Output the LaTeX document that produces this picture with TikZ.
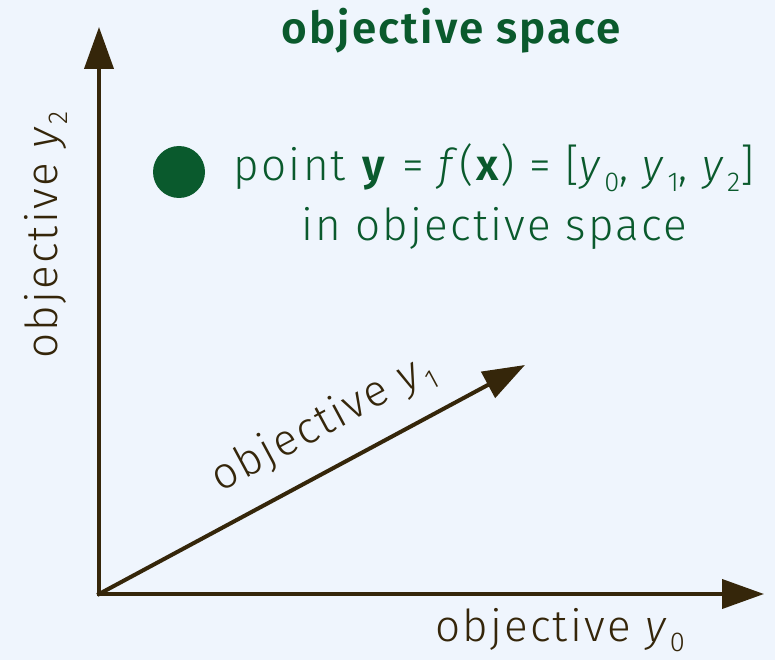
\documentclass[tikz,border=0pt]{standalone}
\usepackage{fontspec}
\setmainfont{Fira Sans Light}[BoldFont={Fira Sans SemiBold}, ItalicFont={Fira Sans Light Italic}, LetterSpace=5]
\usetikzlibrary{arrows.meta,positioning}
\definecolor{bgblue}{RGB}{239,245,253}
\definecolor{axisbrown}{RGB}{53,38,10}
\definecolor{darkgreen}{RGB}{10,90,45}
\newcommand{\ysub}[1]{\textit{y}\kern1pt\raisebox{-0.45ex}{\scalebox{0.62}{#1}}}

\begin{document}
\begin{tikzpicture}[
    x=1pt, y=-1pt,
    axis/.style={line width=4pt, draw=axisbrown, line cap=rect, -{Triangle[length=42pt, width=29pt]}},
    axislabel/.style={font=\fontsize{44}{52}\selectfont, text=axisbrown, inner sep=0pt},
    ptlabel/.style={font=\fontsize{44}{60}\selectfont, text=darkgreen, align=center, inner sep=0pt},
    title/.style={font=\bfseries\fontsize{44}{50}\selectfont, text=darkgreen, inner sep=0pt}
]
    % background
    \fill[bgblue] (0,0) rectangle (775,660);
    \useasboundingbox (0,0) rectangle (775,660);

    % axes
    \coordinate (O) at (99,594);
    \coordinate (tip0) at (764,594);
    \coordinate (tip1) at (525,365);
    \coordinate (tip2) at (99,27);
    \draw[axis] (O) -- (tip0);
    \draw[axis] (O) -- (tip2);
    \draw[axis] (O) -- node[axislabel, sloped, above=20pt, pos=0.575] (ylab1) {objective \ysub{1}} (tip1);

    % axis labels
    \node[axislabel, anchor=base west] (ylab0) at (435,641) {objective \ysub{0}};
    \node[axislabel, rotate=90, anchor=base] (ylab2) at (57,235) {objective \ysub{2}};

    % point in objective space
    \node[title, anchor=base] (title) at (451,44) {objective space};
    \node[circle, fill=darkgreen, minimum size=52pt, inner sep=0pt] (pt) at (179,172) {};
    \node[ptlabel] (ptlabel) at (494,197) {point \textbf{y} = \textit{f}(\textbf{x}) = [\ysub{0}, \ysub{1}, \ysub{2}]\\in objective space};
\end{tikzpicture}
\end{document}
